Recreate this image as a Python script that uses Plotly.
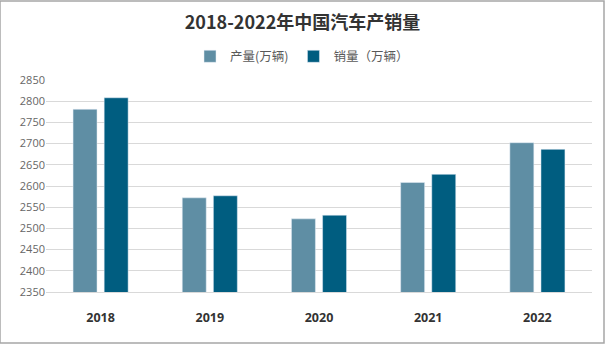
import plotly.graph_objects as go

years = ["2018", "2019", "2020", "2021", "2022"]
production = [2780.9, 2572.1, 2522.5, 2608.2, 2702.1]
sales = [2808.1, 2576.9, 2531.1, 2627.5, 2686.4]
series_names = ["产量(万辆)", "销量（万辆）"]
title_text = "2018-2022年中国汽车产销量"

fig = go.Figure()
fig.add_trace(go.Bar(x=years, y=production, name=series_names[0], marker_color="#5F8EA4"))
fig.add_trace(go.Bar(x=years, y=sales, name=series_names[1], marker_color="#005D80"))

fig.update_layout(
    width=605, height=344,
    margin=dict(l=46, r=13, t=80, b=52),
    paper_bgcolor="white", plot_bgcolor="white",
    font=dict(family="Noto Sans CJK SC, Open Sans, sans-serif", color="#595959"),
    title=dict(text="<b>" + title_text + "</b>", x=0.5, xanchor="center", y=0.935, yanchor="middle",
               font=dict(size=18, color="#333333", family="Noto Sans CJK SC, sans-serif")),
    legend=dict(orientation="h", x=(302 - 46) / 546, xanchor="center", y=1.11, yanchor="middle",
                font=dict(size=12.5, color="#595959"), itemwidth=30, traceorder="normal"),
    barmode="group", bargap=0.43, bargroupgap=0.23,
    showlegend=True,
)
fig.update_yaxes(range=[2350, 2850], dtick=50, showgrid=True, gridcolor="#D9D9D9", gridwidth=1,
                 zeroline=False, tickfont=dict(size=11, color="#666666", family="Open Sans, sans-serif"),
                 ticks="", showline=False)
fig.update_xaxes(tickfont=dict(size=12.5, color="#333333", family="Open Sans, sans-serif"),
                 tickprefix="<b>", ticksuffix="</b>", showline=True, linecolor="#D9D9D9", ticks="",
                 ticklabelstandoff=14)
fig.add_shape(type="rect", xref="paper", yref="paper", x0=-46/546, x1=1+12/546, y0=-51/212, y1=1+79/212,
              line=dict(color="#A6A6A6", width=1.5), fillcolor="rgba(0,0,0,0)")
fig.write_html("out.html")
